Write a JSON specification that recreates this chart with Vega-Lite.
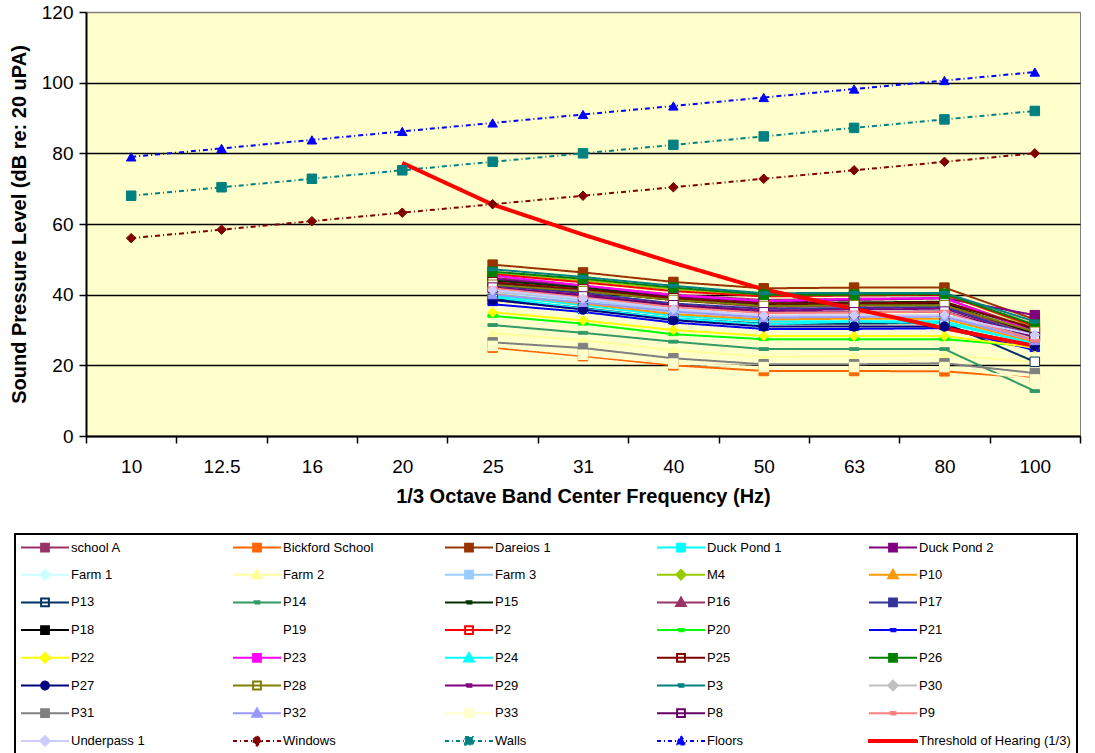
{
  "$schema": "https://vega.github.io/schema/vega-lite/v6.json",
  "width": 994,
  "height": 424,
  "autosize": "none",
  "padding": {"left": 86, "top": 12, "right": 15, "bottom": 317},
  "background": "white",
  "config": {
    "view": {"fill": "#FFFFCC", "stroke": "#808080", "strokeWidth": 1},
    "font": "Liberation Sans"
  },
  "data": {"values": [
    {"s":"Windows","f":"10","v":56.0},{"s":"Windows","f":"12.5","v":58.4},{"s":"Windows","f":"16","v":60.8},{"s":"Windows","f":"20","v":63.2},{"s":"Windows","f":"25","v":65.6},{"s":"Windows","f":"31","v":68.0},{"s":"Windows","f":"40","v":70.4},{"s":"Windows","f":"50","v":72.8},{"s":"Windows","f":"63","v":75.2},{"s":"Windows","f":"80","v":77.6},{"s":"Windows","f":"100","v":80.0},
    {"s":"Walls","f":"10","v":68.0},{"s":"Walls","f":"12.5","v":70.4},{"s":"Walls","f":"16","v":72.8},{"s":"Walls","f":"20","v":75.2},{"s":"Walls","f":"25","v":77.6},{"s":"Walls","f":"31","v":80.0},{"s":"Walls","f":"40","v":82.4},{"s":"Walls","f":"50","v":84.8},{"s":"Walls","f":"63","v":87.2},{"s":"Walls","f":"80","v":89.6},{"s":"Walls","f":"100","v":92.0},
    {"s":"Floors","f":"10","v":79.0},{"s":"Floors","f":"12.5","v":81.4},{"s":"Floors","f":"16","v":83.8},{"s":"Floors","f":"20","v":86.2},{"s":"Floors","f":"25","v":88.6},{"s":"Floors","f":"31","v":91.0},{"s":"Floors","f":"40","v":93.4},{"s":"Floors","f":"50","v":95.8},{"s":"Floors","f":"63","v":98.2},{"s":"Floors","f":"80","v":100.6},{"s":"Floors","f":"100","v":103.0},
    {"s":"school A","f":"25","v":44.8},{"s":"school A","f":"31","v":42.5},{"s":"school A","f":"40","v":40.0},{"s":"school A","f":"50","v":38.5},{"s":"school A","f":"63","v":38.8},{"s":"school A","f":"80","v":39.0},{"s":"school A","f":"100","v":30.0},
    {"s":"Bickford School","f":"25","v":25.0},{"s":"Bickford School","f":"31","v":22.6},{"s":"Bickford School","f":"40","v":20.0},{"s":"Bickford School","f":"50","v":18.4},{"s":"Bickford School","f":"63","v":18.4},{"s":"Bickford School","f":"80","v":18.3},{"s":"Bickford School","f":"100","v":16.4},
    {"s":"Dareios 1","f":"25","v":48.5},{"s":"Dareios 1","f":"31","v":46.3},{"s":"Dareios 1","f":"40","v":43.6},{"s":"Dareios 1","f":"50","v":41.8},{"s":"Dareios 1","f":"63","v":42.0},{"s":"Dareios 1","f":"80","v":42.0},{"s":"Dareios 1","f":"100","v":33.0},
    {"s":"Duck Pond 1","f":"25","v":39.8},{"s":"Duck Pond 1","f":"31","v":37.0},{"s":"Duck Pond 1","f":"40","v":34.0},{"s":"Duck Pond 1","f":"50","v":32.5},{"s":"Duck Pond 1","f":"63","v":32.5},{"s":"Duck Pond 1","f":"80","v":32.5},{"s":"Duck Pond 1","f":"100","v":26.0},
    {"s":"Duck Pond 2","f":"25","v":44.5},{"s":"Duck Pond 2","f":"31","v":42.0},{"s":"Duck Pond 2","f":"40","v":39.5},{"s":"Duck Pond 2","f":"50","v":38.0},{"s":"Duck Pond 2","f":"63","v":38.5},{"s":"Duck Pond 2","f":"80","v":39.0},{"s":"Duck Pond 2","f":"100","v":34.2},
    {"s":"Farm 1","f":"25","v":40.5},{"s":"Farm 1","f":"31","v":38.0},{"s":"Farm 1","f":"40","v":35.0},{"s":"Farm 1","f":"50","v":33.5},{"s":"Farm 1","f":"63","v":33.5},{"s":"Farm 1","f":"80","v":33.5},{"s":"Farm 1","f":"100","v":27.0},
    {"s":"Farm 2","f":"25","v":29.1},{"s":"Farm 2","f":"31","v":27.1},{"s":"Farm 2","f":"40","v":24.3},{"s":"Farm 2","f":"50","v":22.4},{"s":"Farm 2","f":"63","v":22.6},{"s":"Farm 2","f":"80","v":22.9},{"s":"Farm 2","f":"100","v":21.0},
    {"s":"Farm 3","f":"25","v":40.8},{"s":"Farm 3","f":"31","v":38.5},{"s":"Farm 3","f":"40","v":35.5},{"s":"Farm 3","f":"50","v":33.8},{"s":"Farm 3","f":"63","v":34.0},{"s":"Farm 3","f":"80","v":34.0},{"s":"Farm 3","f":"100","v":27.8},
    {"s":"M4","f":"25","v":46.0},{"s":"M4","f":"31","v":44.0},{"s":"M4","f":"40","v":41.5},{"s":"M4","f":"50","v":39.8},{"s":"M4","f":"63","v":40.2},{"s":"M4","f":"80","v":40.5},{"s":"M4","f":"100","v":30.5},
    {"s":"P10","f":"25","v":40.2},{"s":"P10","f":"31","v":37.5},{"s":"P10","f":"40","v":34.5},{"s":"P10","f":"50","v":33.0},{"s":"P10","f":"63","v":33.2},{"s":"P10","f":"80","v":33.2},{"s":"P10","f":"100","v":26.5},
    {"s":"P13","f":"25","v":38.8},{"s":"P13","f":"31","v":36.2},{"s":"P13","f":"40","v":33.2},{"s":"P13","f":"50","v":31.8},{"s":"P13","f":"63","v":31.8},{"s":"P13","f":"80","v":32.0},{"s":"P13","f":"100","v":21.0},
    {"s":"P14","f":"25","v":31.4},{"s":"P14","f":"31","v":29.2},{"s":"P14","f":"40","v":26.7},{"s":"P14","f":"50","v":24.6},{"s":"P14","f":"63","v":24.6},{"s":"P14","f":"80","v":24.6},{"s":"P14","f":"100","v":12.7},
    {"s":"P15","f":"25","v":44.0},{"s":"P15","f":"31","v":42.0},{"s":"P15","f":"40","v":39.0},{"s":"P15","f":"50","v":37.5},{"s":"P15","f":"63","v":37.8},{"s":"P15","f":"80","v":38.0},{"s":"P15","f":"100","v":30.0},
    {"s":"P16","f":"25","v":43.5},{"s":"P16","f":"31","v":41.2},{"s":"P16","f":"40","v":38.5},{"s":"P16","f":"50","v":36.5},{"s":"P16","f":"63","v":36.8},{"s":"P16","f":"80","v":37.0},{"s":"P16","f":"100","v":28.5},
    {"s":"P17","f":"25","v":42.5},{"s":"P17","f":"31","v":40.5},{"s":"P17","f":"40","v":37.5},{"s":"P17","f":"50","v":36.0},{"s":"P17","f":"63","v":36.2},{"s":"P17","f":"80","v":36.5},{"s":"P17","f":"100","v":28.0},
    {"s":"P18","f":"25","v":43.0},{"s":"P18","f":"31","v":41.0},{"s":"P18","f":"40","v":38.5},{"s":"P18","f":"50","v":37.0},{"s":"P18","f":"63","v":37.2},{"s":"P18","f":"80","v":37.5},{"s":"P18","f":"100","v":29.0},
    {"s":"P2","f":"25","v":45.8},{"s":"P2","f":"31","v":43.5},{"s":"P2","f":"40","v":41.0},{"s":"P2","f":"50","v":39.5},{"s":"P2","f":"63","v":39.8},{"s":"P2","f":"80","v":40.0},{"s":"P2","f":"100","v":31.1},
    {"s":"P20","f":"25","v":34.0},{"s":"P20","f":"31","v":31.8},{"s":"P20","f":"40","v":28.8},{"s":"P20","f":"50","v":27.4},{"s":"P20","f":"63","v":27.4},{"s":"P20","f":"80","v":27.4},{"s":"P20","f":"100","v":25.3},
    {"s":"P21","f":"25","v":37.3},{"s":"P21","f":"31","v":35.1},{"s":"P21","f":"40","v":32.1},{"s":"P21","f":"50","v":30.3},{"s":"P21","f":"63","v":30.3},{"s":"P21","f":"80","v":30.5},{"s":"P21","f":"100","v":24.3},
    {"s":"P22","f":"25","v":35.0},{"s":"P22","f":"31","v":32.7},{"s":"P22","f":"40","v":30.0},{"s":"P22","f":"50","v":28.3},{"s":"P22","f":"63","v":28.3},{"s":"P22","f":"80","v":28.3},{"s":"P22","f":"100","v":25.0},
    {"s":"P23","f":"25","v":45.4},{"s":"P23","f":"31","v":42.6},{"s":"P23","f":"40","v":39.9},{"s":"P23","f":"50","v":38.2},{"s":"P23","f":"63","v":38.8},{"s":"P23","f":"80","v":39.0},{"s":"P23","f":"100","v":29.5},
    {"s":"P24","f":"25","v":39.4},{"s":"P24","f":"31","v":36.0},{"s":"P24","f":"40","v":33.3},{"s":"P24","f":"50","v":31.6},{"s":"P24","f":"63","v":32.4},{"s":"P24","f":"80","v":31.9},{"s":"P24","f":"100","v":26.2},
    {"s":"P25","f":"25","v":43.5},{"s":"P25","f":"31","v":41.5},{"s":"P25","f":"40","v":39.0},{"s":"P25","f":"50","v":37.5},{"s":"P25","f":"63","v":37.5},{"s":"P25","f":"80","v":37.8},{"s":"P25","f":"100","v":30.5},
    {"s":"P26","f":"25","v":46.5},{"s":"P26","f":"31","v":44.5},{"s":"P26","f":"40","v":42.0},{"s":"P26","f":"50","v":40.0},{"s":"P26","f":"63","v":40.0},{"s":"P26","f":"80","v":40.2},{"s":"P26","f":"100","v":31.5},
    {"s":"P27","f":"25","v":38.5},{"s":"P27","f":"31","v":35.8},{"s":"P27","f":"40","v":32.8},{"s":"P27","f":"50","v":31.0},{"s":"P27","f":"63","v":31.0},{"s":"P27","f":"80","v":31.0},{"s":"P27","f":"100","v":25.5},
    {"s":"P28","f":"25","v":42.8},{"s":"P28","f":"31","v":41.0},{"s":"P28","f":"40","v":38.5},{"s":"P28","f":"50","v":36.8},{"s":"P28","f":"63","v":37.0},{"s":"P28","f":"80","v":37.0},{"s":"P28","f":"100","v":29.5},
    {"s":"P29","f":"25","v":42.0},{"s":"P29","f":"31","v":40.0},{"s":"P29","f":"40","v":37.0},{"s":"P29","f":"50","v":35.5},{"s":"P29","f":"63","v":35.8},{"s":"P29","f":"80","v":36.0},{"s":"P29","f":"100","v":27.5},
    {"s":"P3","f":"25","v":47.2},{"s":"P3","f":"31","v":45.0},{"s":"P3","f":"40","v":42.5},{"s":"P3","f":"50","v":40.4},{"s":"P3","f":"63","v":40.5},{"s":"P3","f":"80","v":40.5},{"s":"P3","f":"100","v":32.4},
    {"s":"P30","f":"25","v":41.0},{"s":"P30","f":"31","v":39.0},{"s":"P30","f":"40","v":36.5},{"s":"P30","f":"50","v":35.0},{"s":"P30","f":"63","v":35.2},{"s":"P30","f":"80","v":35.5},{"s":"P30","f":"100","v":27.5},
    {"s":"P31","f":"25","v":26.5},{"s":"P31","f":"31","v":24.9},{"s":"P31","f":"40","v":22.0},{"s":"P31","f":"50","v":20.3},{"s":"P31","f":"63","v":20.3},{"s":"P31","f":"80","v":20.6},{"s":"P31","f":"100","v":17.8},
    {"s":"P32","f":"25","v":40.0},{"s":"P32","f":"31","v":37.8},{"s":"P32","f":"40","v":35.2},{"s":"P32","f":"50","v":33.5},{"s":"P32","f":"63","v":33.7},{"s":"P32","f":"80","v":33.8},{"s":"P32","f":"100","v":27.0},
    {"s":"P33","f":"25","v":25.5},{"s":"P33","f":"31","v":23.0},{"s":"P33","f":"40","v":20.5},{"s":"P33","f":"50","v":19.5},{"s":"P33","f":"63","v":19.5},{"s":"P33","f":"80","v":19.5},{"s":"P33","f":"100","v":16.0},
    {"s":"P8","f":"25","v":42.0},{"s":"P8","f":"31","v":39.5},{"s":"P8","f":"40","v":37.0},{"s":"P8","f":"50","v":35.0},{"s":"P8","f":"63","v":35.0},{"s":"P8","f":"80","v":35.2},{"s":"P8","f":"100","v":28.0},
    {"s":"P9","f":"25","v":41.8},{"s":"P9","f":"31","v":39.2},{"s":"P9","f":"40","v":36.5},{"s":"P9","f":"50","v":34.8},{"s":"P9","f":"63","v":35.0},{"s":"P9","f":"80","v":35.2},{"s":"P9","f":"100","v":27.0},
    {"s":"Underpass 1","f":"25","v":41.3},{"s":"Underpass 1","f":"31","v":38.9},{"s":"Underpass 1","f":"40","v":35.9},{"s":"Underpass 1","f":"50","v":34.1},{"s":"Underpass 1","f":"63","v":34.2},{"s":"Underpass 1","f":"80","v":34.2},{"s":"Underpass 1","f":"100","v":28.6},
    {"s":"Threshold of Hearing (1/3)","f":"20","v":77.3},{"s":"Threshold of Hearing (1/3)","f":"25","v":65.5},{"s":"Threshold of Hearing (1/3)","f":"31","v":57.0},{"s":"Threshold of Hearing (1/3)","f":"40","v":49.0},{"s":"Threshold of Hearing (1/3)","f":"50","v":41.5},{"s":"Threshold of Hearing (1/3)","f":"63","v":36.0},{"s":"Threshold of Hearing (1/3)","f":"80","v":30.5},{"s":"Threshold of Hearing (1/3)","f":"100","v":25.5}
  ]},
  "encoding": {
    "x": {
      "field": "f", "type": "ordinal", "bandPosition": 0.5,
      "scale": {"type": "band", "domain": ["10","12.5","16","20","25","31","40","50","63","80","100"], "paddingInner": 0, "paddingOuter": 0},
      "axis": {
        "title": "1/3 Octave Band Center Frequency (Hz)", "titleFontSize": 20, "titleFontWeight": "bold", "titleColor": "black", "titlePadding": 10,
        "labelAngle": 0, "labelFontSize": 19, "labelColor": "black", "labelPadding": 14,
        "tickBand": "extent", "tickSize": 7, "tickColor": "black", "tickWidth": 1.5,
        "domainColor": "black", "domainWidth": 2, "grid": false
      }
    },
    "y": {
      "field": "v", "type": "quantitative",
      "scale": {"domain": [0, 120], "nice": false},
      "axis": {
        "values": [0, 20, 40, 60, 80, 100, 120],
        "title": "Sound Pressure Level (dB re: 20 uPA)", "titleFontSize": 20, "titleFontWeight": "bold", "titleColor": "black", "titlePadding": 12,
        "labelFontSize": 19, "labelColor": "black", "labelPadding": 6,
        "tickSize": 7, "tickColor": "black", "tickWidth": 1.5,
        "domainColor": "black", "domainWidth": 2,
        "grid": true, "gridWidth": 1.5,
        "gridColor": {"condition": {"test": "datum.value === 120", "value": "#808080"}, "value": "black"}
      }
    }
  },
  "layer": [
    {
      "mark": {"type": "line", "strokeCap": "butt"},
      "encoding": {
        "color": {
          "field": "s", "type": "nominal",
          "scale": {
            "domain": ["school A","Bickford School","Dareios 1","Duck Pond 1","Duck Pond 2","Farm 1","Farm 2","Farm 3","M4","P10","P13","P14","P15","P16","P17","P18","P19","P2","P20","P21","P22","P23","P24","P25","P26","P27","P28","P29","P3","P30","P31","P32","P33","P8","P9","Underpass 1","Windows","Walls","Floors","Threshold of Hearing (1/3)"],
            "range": ["#993366","#FF6600","#993300","#00FFFF","#800080","#CCFFFF","#FFFF99","#99CCFF","#99CC00","#FF9900","#003366","#339966","#003300","#993366","#333399","#000000","rgba(0,0,0,0)","#FF0000","#00FF00","#0000FF","#FFFF00","#FF00FF","#00FFFF","#800000","#008000","#000080","#808000","#800080","#008080","#C0C0C0","#808080","#9999FF","#FFFFCC","#660066","#FF8080","#CCCCFF","#800000","#008080","#0000FF","#FF0000"]
          },
          "legend": {
            "title": null,
            "orient": "none", "legendX": -71, "legendY": 522,
            "direction": "horizontal",
            "columns": 5, "gridAlign": "all", "columnPadding": 6, "rowPadding": 9.7,
            "symbolLimit": 100,
            "padding": 6, "strokeColor": "black", "fillColor": "white",
            "labelFont": "Liberation Sans", "labelFontSize": 13, "labelColor": "black", "labelOffset": 19, "labelLimit": 300,
            "symbolSize": 144, "symbolOffset": 17, "symbolStrokeWidth": 2,
            "encode": {
              "legend": {"update": {"strokeWidth": {"value": 2}}},
              "symbols": {"update": {
                "shape": {"signal": "indexof(['Farm 1','M4','P22','P30','Underpass 1','Windows'], datum.value) >= 0 ? 'M-4,0H4M0,-0.8L0.8,0L0,0.8L-0.8,0Z' : indexof(['Farm 2','P10','P16','P24','P32','Floors'], datum.value) >= 0 ? 'M-4,0H4M0,-0.8L0.8,0.6H-0.8Z' : datum.value === 'P27' ? 'M-4,0H4M-0.65,0A0.65,0.65 0 1,0 0.65,0A0.65,0.65 0 1,0 -0.65,0Z' : indexof(['P14','P15','P20','P21','P29','P3','P9'], datum.value) >= 0 ? 'M-4,0H4M-0.4,-0.2H0.4V0.2H-0.4Z' : datum.value === 'Threshold of Hearing (1/3)' ? 'M-4,-0.17H4V0.17H-4Z' : datum.value === 'P19' ? 'M0,0' : 'M-4,0H4M-0.65,-0.65H0.65V0.65H-0.65Z'"},
                "stroke": {"scale": "color", "field": "value"},
                "fill": {"signal": "indexof(['P13','P2','P28','P8','P25'], datum.value) >= 0 ? 'white' : scale('color', datum.value)"},
                "strokeDash": {"signal": "indexof(['Windows','Walls','Floors'], datum.value) >= 0 ? [4,3,1,3] : [1,0]"},
                "opacity": {"value": 1}
              }}
            }
          }
        },
        "strokeWidth": {"condition": {"test": "datum.s === 'Threshold of Hearing (1/3)'", "value": 4}, "value": 2},
        "strokeDash": {"condition": {"test": "indexof(['Windows','Walls','Floors'], datum.s) >= 0", "value": [5,3,1,3]}, "value": [1,0]}
      }
    },
    {
      "transform": [{"filter": "datum.s !== 'Threshold of Hearing (1/3)'"}],
      "mark": {"type": "point", "filled": false, "strokeWidth": 1, "opacity": 1, "size": 90},
      "encoding": {
        "shape": {
          "field": "s", "type": "nominal", "legend": null,
          "scale": {
            "domain": ["school A","Bickford School","Dareios 1","Duck Pond 1","Duck Pond 2","Farm 1","Farm 2","Farm 3","M4","P10","P13","P14","P15","P16","P17","P18","P19","P2","P20","P21","P22","P23","P24","P25","P26","P27","P28","P29","P3","P30","P31","P32","P33","P8","P9","Underpass 1","Windows","Walls","Floors"],
            "range": ["square","square","square","square","square","diamond","triangle-up","square","diamond","triangle-up","square","M-1,-0.3H1V0.3H-1Z","M-1,-0.3H1V0.3H-1Z","triangle-up","square","square","square","square","M-1,-0.3H1V0.3H-1Z","M-1,-0.3H1V0.3H-1Z","diamond","square","triangle-up","square","square","circle","square","M-1,-0.3H1V0.3H-1Z","M-1,-0.3H1V0.3H-1Z","diamond","square","triangle-up","square","square","M-1,-0.3H1V0.3H-1Z","diamond","diamond","square","triangle-up"]
          }
        },
        "fill": {
          "field": "s", "type": "nominal", "legend": null,
          "scale": {
            "domain": ["school A","Bickford School","Dareios 1","Duck Pond 1","Duck Pond 2","Farm 1","Farm 2","Farm 3","M4","P10","P13","P14","P15","P16","P17","P18","P19","P2","P20","P21","P22","P23","P24","P25","P26","P27","P28","P29","P3","P30","P31","P32","P33","P8","P9","Underpass 1","Windows","Walls","Floors"],
            "range": ["#993366","#FF6600","#993300","#00FFFF","#800080","#CCFFFF","#FFFF99","#99CCFF","#99CC00","#FF9900","white","#339966","#003300","#993366","#333399","#000000","rgba(0,0,0,0)","white","#00FF00","#0000FF","#FFFF00","#FF00FF","#00FFFF","white","#008000","#000080","white","#800080","#008080","#C0C0C0","#808080","#9999FF","#FFFFCC","white","#FF8080","#CCCCFF","#800000","#008080","#0000FF"]
          }
        },
        "stroke": {
          "field": "s", "type": "nominal", "legend": null,
          "scale": {
            "domain": ["school A","Bickford School","Dareios 1","Duck Pond 1","Duck Pond 2","Farm 1","Farm 2","Farm 3","M4","P10","P13","P14","P15","P16","P17","P18","P19","P2","P20","P21","P22","P23","P24","P25","P26","P27","P28","P29","P3","P30","P31","P32","P33","P8","P9","Underpass 1","Windows","Walls","Floors"],
            "range": ["#993366","#FF6600","#993300","#00FFFF","#800080","#CCFFFF","#FFFF99","#99CCFF","#99CC00","#FF9900","#003366","#339966","#003300","#993366","#333399","#000000","rgba(0,0,0,0)","#FF0000","#00FF00","#0000FF","#FFFF00","#FF00FF","#00FFFF","#800000","#008000","#000080","#808000","#800080","#008080","#C0C0C0","#808080","#9999FF","#FFFFCC","#660066","#FF8080","#CCCCFF","#800000","#008080","#0000FF"]
          }
        }
      }
    }
  ]
}
